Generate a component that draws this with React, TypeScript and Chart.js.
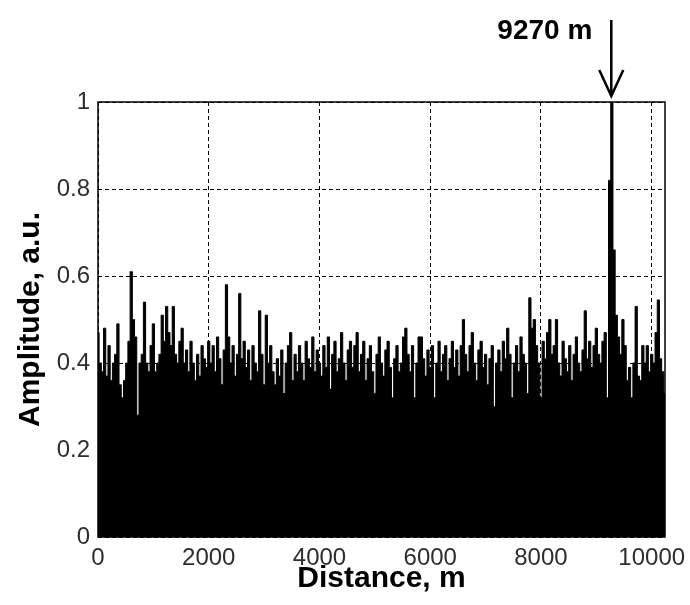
import { useEffect, useRef } from 'react';
import { Chart, registerables } from 'chart.js';

Chart.register(...registerables);

// Sampling interval of the trace along the fibre (m)
const DISTANCE_STEP_M = 40;

// Amplitude trace (a.u.), one value per DISTANCE_STEP_M
const AMPLITUDES: number[] = [
  0.47, 0.40, 0.38, 0.48, 0.37, 0.44, 0.36, 0.40, 0.42, 0.49,
  0.35, 0.32, 0.36, 0.40, 0.45, 0.61, 0.50, 0.46, 0.28, 0.40,
  0.42, 0.54, 0.40, 0.38, 0.44, 0.49, 0.38, 0.40, 0.42, 0.51,
  0.45, 0.53, 0.47, 0.44, 0.53, 0.42, 0.40, 0.45, 0.48, 0.40,
  0.43, 0.38, 0.45, 0.40, 0.36, 0.42, 0.37, 0.44, 0.41, 0.39,
  0.45, 0.40, 0.44, 0.38, 0.46, 0.41, 0.35, 0.43, 0.58, 0.46,
  0.40, 0.44, 0.37, 0.42, 0.56, 0.41, 0.45, 0.39, 0.43, 0.36,
  0.44, 0.40, 0.38, 0.52, 0.42, 0.35, 0.51, 0.40, 0.44, 0.38,
  0.35, 0.41, 0.37, 0.43, 0.33, 0.40, 0.44, 0.47, 0.36, 0.42,
  0.38, 0.44, 0.40, 0.36, 0.45, 0.41, 0.39, 0.46, 0.38, 0.43,
  0.40, 0.37, 0.44, 0.39, 0.46, 0.34, 0.42, 0.45, 0.38, 0.41,
  0.47, 0.40, 0.36, 0.43, 0.45, 0.39, 0.44, 0.47, 0.38, 0.42,
  0.45, 0.36, 0.41, 0.44, 0.38, 0.33, 0.42, 0.46, 0.40, 0.37,
  0.43, 0.45, 0.39, 0.32, 0.41, 0.44, 0.38, 0.40, 0.46, 0.48,
  0.42, 0.38, 0.44, 0.32, 0.40, 0.46, 0.46, 0.41, 0.37, 0.43,
  0.39, 0.44, 0.32, 0.40, 0.45, 0.38, 0.42, 0.44, 0.36, 0.41,
  0.45, 0.39, 0.43, 0.37, 0.44, 0.50, 0.42, 0.38, 0.44, 0.47,
  0.40, 0.36, 0.43, 0.45, 0.39, 0.42, 0.35, 0.41, 0.44, 0.30,
  0.40, 0.43, 0.38, 0.45, 0.41, 0.48, 0.42, 0.32, 0.40, 0.44,
  0.38, 0.46, 0.42, 0.40, 0.33, 0.55, 0.48, 0.50, 0.44, 0.40,
  0.32, 0.45, 0.41, 0.47, 0.50, 0.42, 0.44, 0.50, 0.40, 0.37,
  0.45, 0.41, 0.38, 0.44, 0.36, 0.42, 0.46, 0.40, 0.38, 0.43,
  0.52, 0.41, 0.45, 0.39, 0.44, 0.48, 0.42, 0.40, 0.45, 0.47,
  0.32, 0.82, 1.00, 0.66, 0.51, 0.46, 0.42, 0.50, 0.44, 0.36,
  0.39, 0.32, 0.40, 0.53, 0.37, 0.36, 0.44, 0.40, 0.44, 0.38,
  0.42, 0.40, 0.47, 0.545, 0.41, 0.38, 0.33,
];

const X_MAX_M = 10240;
const X_TICKS = [0, 2000, 4000, 6000, 8000, 10000];
const Y_TICKS = [0, 0.2, 0.4, 0.6, 0.8, 1];

const X_TITLE = 'Distance, m';
const Y_TITLE = 'Amplitude, a.u.';
const PEAK_DISTANCE_M = 9270;
const PEAK_LABEL = '9270 m';

const FONT = '"Liberation Sans", Arial, sans-serif';

export default function App() {
  const ref = useRef<HTMLCanvasElement>(null);

  useEffect(() => {
    if (!ref.current) return;
    const points = AMPLITUDES.map((a, i) => ({ x: i * DISTANCE_STEP_M, y: a }));

    const overlay = {
      id: 'overlay',
      afterDraw(chart: any) {
        const { ctx, chartArea } = chart;
        const { left, right, top, bottom } = chartArea;
        ctx.save();
        // plot frame
        ctx.strokeStyle = '#000';
        ctx.lineWidth = 1.5;
        ctx.strokeRect(left, top, right - left, bottom - top);

        // axis titles
        ctx.fillStyle = '#000';
        ctx.font = `bold 30px ${FONT}`;
        ctx.textAlign = 'center';
        ctx.textBaseline = 'middle';
        ctx.fillText(X_TITLE, (left + right) / 2, 579);
        ctx.save();
        ctx.translate(31, (top + bottom) / 2);
        ctx.rotate(-Math.PI / 2);
        ctx.fillText(Y_TITLE, 0, 0);
        ctx.restore();

        // peak annotation
        const px = chart.scales.x.getPixelForValue(PEAK_DISTANCE_M);
        ctx.font = `bold 28px ${FONT}`;
        ctx.textAlign = 'right';
        ctx.fillText(PEAK_LABEL, px - 19, 31);
        ctx.lineWidth = 2.5;
        ctx.beginPath();
        ctx.moveTo(px, 20);
        ctx.lineTo(px, 96);
        ctx.moveTo(px - 12, 70);
        ctx.lineTo(px, 96);
        ctx.lineTo(px + 12, 70);
        ctx.stroke();
        ctx.restore();
      },
    };

    const tickFont = { family: FONT, size: 24 };

    const chart = new Chart(ref.current, {
      type: 'line',
      data: {
        datasets: [
          {
            data: points,
            stepped: 'middle',
            fill: 'origin',
            borderColor: '#000',
            backgroundColor: '#000',
            borderWidth: 1,
            pointRadius: 0,
          },
        ],
      },
      options: {
        responsive: false,
        animation: false,
        layout: { padding: { left: 0, top: 102, right: 25, bottom: 0 } },
        plugins: { legend: { display: false }, tooltip: { enabled: false } },
        scales: {
          x: {
            type: 'linear',
            min: 0,
            max: X_MAX_M,
            z: 1,
            afterBuildTicks: (s: any) => {
              s.ticks = X_TICKS.map((v) => ({ value: v }));
            },
            afterFit: (s: any) => {
              s.height = 68;
              s.paddingLeft = 0;
              s.paddingRight = 0;
            },
            grid: { color: '#000', lineWidth: 1, drawTicks: false },
            border: { display: false, dash: [4, 3] },
            ticks: {
              font: tickFont,
              color: '#2e2e2e',
              padding: 7,
              maxRotation: 0,
              autoSkip: false,
              callback: (v: any) => String(v),
            },
          },
          y: {
            type: 'linear',
            min: 0,
            max: 1,
            z: 1,
            afterBuildTicks: (s: any) => {
              s.ticks = Y_TICKS.map((v) => ({ value: v }));
            },
            afterFit: (s: any) => {
              s.width = 98;
              s.paddingTop = 0;
              s.paddingBottom = 0;
            },
            grid: { color: '#000', lineWidth: 1, drawTicks: false },
            border: { display: false, dash: [4, 3] },
            ticks: {
              font: tickFont,
              color: '#2e2e2e',
              padding: 8,
              autoSkip: false,
              callback: (v: any) => String(v),
            },
          },
        },
      },
      plugins: [overlay],
    } as any);

    return () => chart.destroy();
  }, []);

  return (
    <div style={{ position: 'fixed', left: 0, top: 0, width: 690, height: 605, background: '#fff' }}>
      <canvas ref={ref} width={690} height={605} />
    </div>
  );
}
